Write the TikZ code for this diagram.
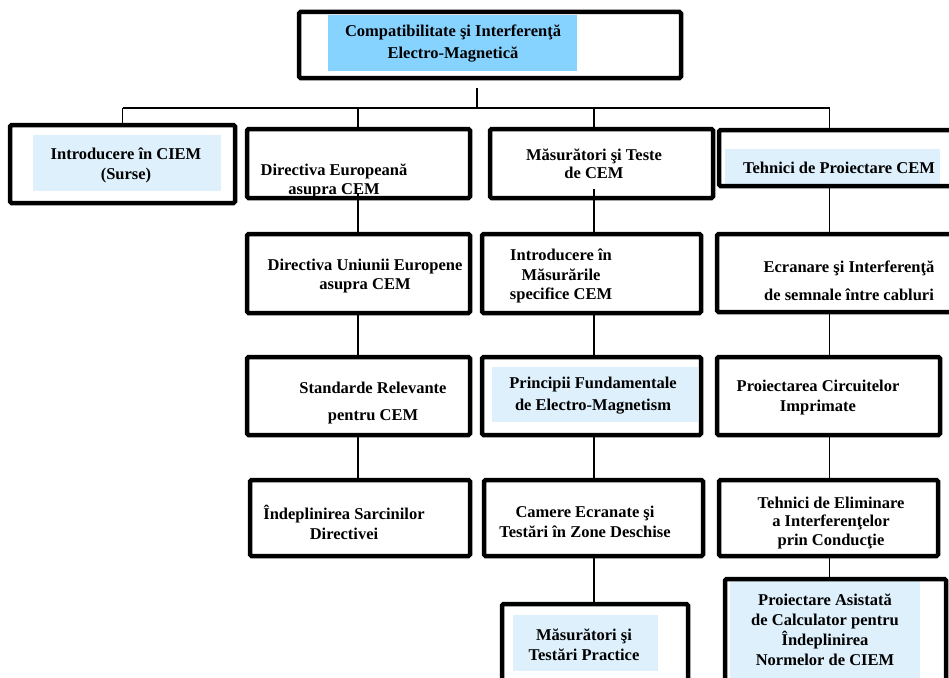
\documentclass[tikz,border=0pt]{standalone}
\usepackage{fontspec}
\setmainfont{Liberation Serif}
\usepackage{xcolor}
\usepackage{tikz}
\usetikzlibrary{positioning, calc}
\definecolor{ciemsky}{HTML}{87D3FF}
\definecolor{ciempale}{HTML}{DDF0FC}

\tikzset{
  cbox/.style={draw=black, line width=4.5pt, rounded corners=1.5pt, inner sep=0pt},
  cfill/.style={fill=#1, inner sep=0pt, draw=none},
  ctext/.style={font=\fontsize{16.5}{18.5}\selectfont\bfseries, align=center, inner sep=0pt},
  clink/.style={draw=black, line width=1.3pt}
}

\begin{document}
\begin{tikzpicture}[x=1pt, y=-1pt]
\useasboundingbox (0,0) rectangle (949,677);
\clip (0,0) rectangle (949,677);

% coloured panels behind the titles
\node[cfill=ciemsky, minimum width=249, minimum height=56] (fTop) at (452.5,43) {};
\node[cfill=ciempale, minimum width=188, minimum height=56] (fA) at (127,163) {};
\node[cfill=ciempale, minimum width=215, minimum height=35] (fD) at (832.5,166.5) {};
\node[cfill=ciempale, minimum width=206, minimum height=55] (fC3) at (595,394.5) {};
\node[cfill=ciempale, minimum width=145, minimum height=56] (fC5) at (585.5,643) {};
\node[cfill=ciempale, minimum width=190, minimum height=110] (fD5) at (825,633) {};

% boxes
\node[cbox, minimum width=382, minimum height=66] (top) at (490,45) {};
\node[cbox, minimum width=225, minimum height=78] (A) at (122.5,164) {};
\node[cbox, minimum width=223, minimum height=69] (B) at (358.5,163.5) {};
\node[cbox, minimum width=223, minimum height=69] (C) at (601.5,163.5) {};
\node[cbox, minimum width=283, minimum height=56] (D) at (860.5,158) {};
\node[cbox, minimum width=223, minimum height=79] (B2) at (358.5,273.5) {};
\node[cbox, minimum width=219, minimum height=79] (C2) at (591.5,273.5) {};
\node[cbox, minimum width=283, minimum height=78] (D2) at (858.5,273) {};
\node[cbox, minimum width=223, minimum height=78] (B3) at (358.5,396) {};
\node[cbox, minimum width=219, minimum height=78] (C3) at (591.5,396) {};
\node[cbox, minimum width=223, minimum height=78] (D3) at (828.5,396) {};
\node[cbox, minimum width=220, minimum height=76] (B4) at (360,518) {};
\node[cbox, minimum width=219, minimum height=76] (C4) at (593.5,518) {};
\node[cbox, minimum width=219, minimum height=76] (D4) at (828.5,518) {};
\node[cbox, minimum width=186, minimum height=100] (C5) at (595,654) {};
\node[cbox, minimum width=221, minimum height=124] (D5) at (835.5,641) {};

% titles
\node[ctext] (tTop) at (453,44) {Compatibilitate şi Interferenţă\\[3.5pt]Electro-Magnetică};
\node[ctext] (tA) at (126,165) {Introducere în CIEM\\[1.5pt](Surse)};
\node[ctext] (tB) at (334,181) {Directiva Europeană\\asupra CEM};
\node[ctext] (tC) at (594,164) {Măsurători şi Teste\\de CEM};
\node[ctext] (tD) at (839,168) {Tehnici de Proiectare CEM};
\node[ctext] (tB2) at (365,276) {Directiva Uniunii Europene\\asupra CEM};
\node[ctext] (tC2) at (561,276) {Introducere în\\[1pt]Măsurările\\[1pt]specifice CEM};
\node[ctext] (tD2) at (849,281) {Ecranare şi Interferenţă\\[9.5pt]de semnale între cabluri};
\node[ctext] (tB3) at (373,403) {Standarde Relevante\\[8.5pt]pentru CEM};
\node[ctext] (tC3) at (593,396) {Principii Fundamentale\\[3.5pt]de Electro-Magnetism};
\node[ctext] (tD3) at (818,398) {Proiectarea Circuitelor\\[1.5pt]Imprimate};
\node[ctext] (tB4) at (344,522) {Îndeplinirea Sarcinilor\\[1.5pt]Directivei};
\node[ctext] (tC4) at (585,522) {Camere Ecranate şi\\[1.5pt]Testări în Zone Deschise};
\node[ctext] (tD4) at (831,523) {Tehnici de Eliminare\\a Interferenţelor\\prin Conducţie};
\node[ctext] (tC5) at (584,645) {Măsurători şi\\[1.5pt]Testări Practice};
\node[ctext] (tD5) at (825,630) {Proiectare Asistată\\[1.5pt]de Calculator pentru\\[1.5pt]Îndeplinirea\\[1.5pt]Normelor de CIEM};

% connectors
\coordinate (trunk) at (477,88);
\coordinate (bus) at (477,108);
\coordinate (colA) at (122.5,108);
\coordinate (colB) at (358,108);
\coordinate (colC) at (594,108);
\coordinate (colD) at (829.5,108);
\draw[clink] (trunk) -- (bus);
\draw[clink] (colA) -- (colD);
\draw[clink] (colA) -- (colA |- A.north);
\draw[clink] (colB) -- (colB |- B.north);
\draw[clink] (colC) -- (colC |- C.north);
\draw[clink] (colD) -- (colD |- D.north);
\draw[clink] ([yshift=7pt]colB |- B.south) -- (colB |- B2.north);
\draw[clink] (colB |- B2.south) -- (colB |- B3.north);
\draw[clink] (colB |- B3.south) -- (colB |- B4.north);
\draw[clink] ([yshift=11pt]colC |- C.south) -- (colC |- C2.north);
\draw[clink] (colC |- C2.south) -- (colC |- C3.north);
\draw[clink] (colC |- C3.south) -- (colC |- C4.north);
\draw[clink] (colC |- C4.south) -- (colC |- C5.north);
\draw[clink] (colD |- D.south) -- (colD |- D2.north);
\draw[clink] (colD |- D2.south) -- (colD |- D3.north);
\draw[clink] (colD |- D3.south) -- (colD |- D4.north);
\draw[clink] (colD |- D4.south) -- (colD |- D5.north);
\end{tikzpicture}
\end{document}
